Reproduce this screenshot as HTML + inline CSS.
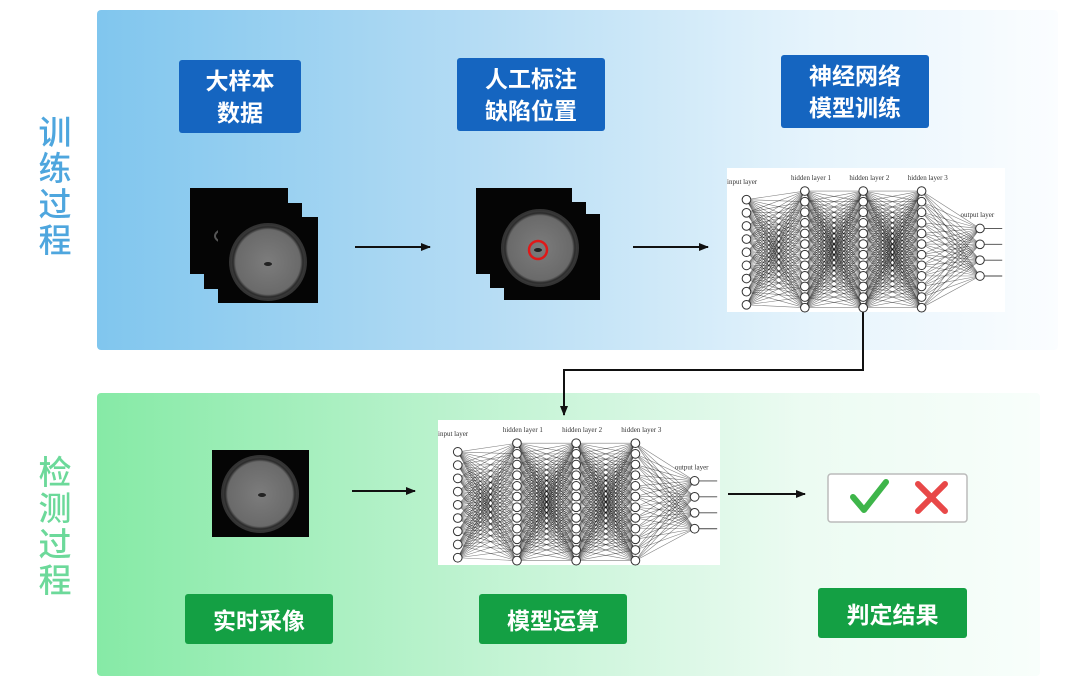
<!DOCTYPE html>
<html><head><meta charset="utf-8">
<style>
body{margin:0;width:1080px;height:696px;background:#fff;position:relative;overflow:hidden;font-family:"Liberation Sans","Noto Sans CJK SC",sans-serif}
.abs{position:absolute}
.panel1{left:97px;top:10px;width:961px;height:340px;border-radius:4px;background:linear-gradient(90deg,#80c6ee 0%,#b5dcf4 40%,#e6f4fc 75%,#fbfdff 100%)}
.panel2{left:97px;top:393px;width:943px;height:283px;border-radius:4px;background:linear-gradient(90deg,#86eaa6 0%,#c6f4d6 45%,#ecfbf2 75%,#f8fefb 100%)}
.vl{font-size:33px;line-height:36px;width:36px;text-align:center;font-weight:500}
.bb{background:#1565c0;color:#fff;font-weight:bold;font-size:23px;line-height:32px;text-align:center;border-radius:3px;display:flex;align-items:center;justify-content:center}
.gb{background:#14a044;color:#fff;font-weight:bold;font-size:23px;text-align:center;border-radius:3px;display:flex;align-items:center;justify-content:center}
</style></head><body>
<div class="abs panel1"></div>
<div class="abs panel2"></div>
<div class="abs vl" style="left:37px;top:115px;color:#4ea6de">训<br>练<br>过<br>程</div>
<div class="abs vl" style="left:37px;top:455px;color:#6cd99a">检<br>测<br>过<br>程</div>

<div class="abs bb" style="left:179px;top:60px;width:122px;height:73px">大样本<br>数据</div>
<div class="abs bb" style="left:457px;top:58px;width:148px;height:73px">人工标注<br>缺陷位置</div>
<div class="abs bb" style="left:781px;top:55px;width:148px;height:73px">神经网络<br>模型训练</div>
<div class="abs gb" style="left:185px;top:594px;width:148px;height:50px">实时采像</div>
<div class="abs gb" style="left:479px;top:594px;width:148px;height:50px">模型运算</div>
<div class="abs gb" style="left:818px;top:588px;width:149px;height:50px">判定结果</div>

<svg class="abs" style="left:0;top:0" width="1080" height="696" id="s">
<defs>
<radialGradient id="disc" cx="50%" cy="50%" r="50%"><stop offset="0" stop-color="#7c7c7c"/><stop offset="0.85" stop-color="#6a6a6a"/><stop offset="0.92" stop-color="#2a2a2a"/><stop offset="1" stop-color="#444"/></radialGradient>
<marker id="ar" markerWidth="10" markerHeight="8" refX="9" refY="4" orient="auto" markerUnits="userSpaceOnUse"><path d="M0,0 L10,4 L0,8 z" fill="#111"/></marker>
</defs>
<g>
<rect x="190" y="188" width="98" height="86" fill="#050505"/>
<ellipse cx="245" cy="222" rx="40" ry="12" fill="none" stroke="#555" stroke-width="2"/>
<rect x="204" y="203" width="98" height="86" fill="#050505"/>
<ellipse cx="255" cy="236" rx="40" ry="12" fill="none" stroke="#555" stroke-width="2"/>
<rect x="218" y="217" width="100" height="86" fill="#050505"/>
<circle cx="268" cy="262" r="38" fill="url(#disc)" stroke="#333" stroke-width="2"/>
<ellipse cx="268" cy="264" rx="4" ry="2" fill="#222"/>
</g>
<g>
<rect x="476" y="188" width="96" height="86" fill="#050505"/>
<rect x="490" y="202" width="96" height="86" fill="#050505"/>
<rect x="504" y="214" width="96" height="86" fill="#050505"/>
<circle cx="540" cy="248" r="38" fill="url(#disc)" stroke="#333" stroke-width="2"/>
<ellipse cx="538" cy="250" rx="4" ry="2" fill="#222"/>
<circle cx="538" cy="250" r="9" fill="none" stroke="#e01818" stroke-width="2.5"/>
</g>
<rect x="212" y="450" width="97" height="87" fill="#050505"/>
<circle cx="260" cy="494" r="38" fill="url(#disc)" stroke="#333" stroke-width="2"/>
<ellipse cx="262" cy="495" rx="4" ry="2" fill="#222"/>

<line x1="355" y1="247" x2="430" y2="247" stroke="#111" stroke-width="2" marker-end="url(#ar)"/>
<line x1="633" y1="247" x2="708" y2="247" stroke="#111" stroke-width="2" marker-end="url(#ar)"/>
<line x1="352" y1="491" x2="415" y2="491" stroke="#111" stroke-width="2" marker-end="url(#ar)"/>
<line x1="728" y1="494" x2="805" y2="494" stroke="#111" stroke-width="2" marker-end="url(#ar)"/>
<polyline points="863,312 863,370 564,370 564,415" fill="none" stroke="#111" stroke-width="2" marker-end="url(#ar)"/>

<rect x="828" y="474" width="139" height="48" rx="3" fill="#fff" stroke="#bbb" stroke-width="1.5"/>
<polyline points="853,497 864,510 886,482" fill="none" stroke="#3eb54a" stroke-width="6" stroke-linecap="round" stroke-linejoin="round"/>
<line x1="918" y1="484" x2="945" y2="511" stroke="#e84848" stroke-width="6" stroke-linecap="round"/>
<line x1="945" y1="484" x2="918" y2="511" stroke="#e84848" stroke-width="6" stroke-linecap="round"/>
<g id="nn1"></g><g id="nn2"></g>
</svg>
<script>
function nn(g,X,Y,W,H){
 var s="";
 s+='<rect x="'+X+'" y="'+Y+'" width="'+W+'" height="'+H+'" fill="#fff"/>';
 var cols=[0.07,0.28,0.49,0.70,0.91],counts=[9,12,12,12,4];
 var pts=[];
 for(var c=0;c<5;c++){var n=counts[c],arr=[];var top=(c==0)?0.22:(c==4?0.42:0.16),bot=(c==0)?0.95:(c==4?0.75:0.97);
  for(var i=0;i<n;i++){arr.push([X+cols[c]*W,Y+(top+(bot-top)*i/(n-1))*H]);}pts.push(arr);}
 for(var c=0;c<4;c++)for(var a of pts[c])for(var b of pts[c+1])s+='<line x1="'+a[0]+'" y1="'+a[1]+'" x2="'+b[0]+'" y2="'+b[1]+'" stroke="#000" stroke-opacity="0.5" stroke-width="0.6"/>';
 var r=H*0.03;
 for(var c=0;c<5;c++)for(var p of pts[c])s+='<circle cx="'+p[0]+'" cy="'+p[1]+'" r="'+r+'" fill="#fff" stroke="#333" stroke-width="1"/>';
 for(var p of pts[4])s+='<line x1="'+(p[0]+r)+'" y1="'+p[1]+'" x2="'+(p[0]+W*0.08)+'" y2="'+p[1]+'" stroke="#444" stroke-width="0.9"/>';
 var lab=[["input layer",0.0,0.07],["hidden layer 1",0.23,0.04],["hidden layer 2",0.44,0.04],["hidden layer 3",0.65,0.04],["output layer",0.84,0.3]];
 for(var l of lab)s+='<text x="'+(X+l[1]*W)+'" y="'+(Y+l[2]*H+6)+'" font-size="7" font-family="Liberation Serif,serif" fill="#333">'+l[0]+'</text>';
 document.getElementById(g).innerHTML=s;
}
nn("nn1",727,168,278,144);
nn("nn2",438,420,282,145);
</script>
</body></html>
